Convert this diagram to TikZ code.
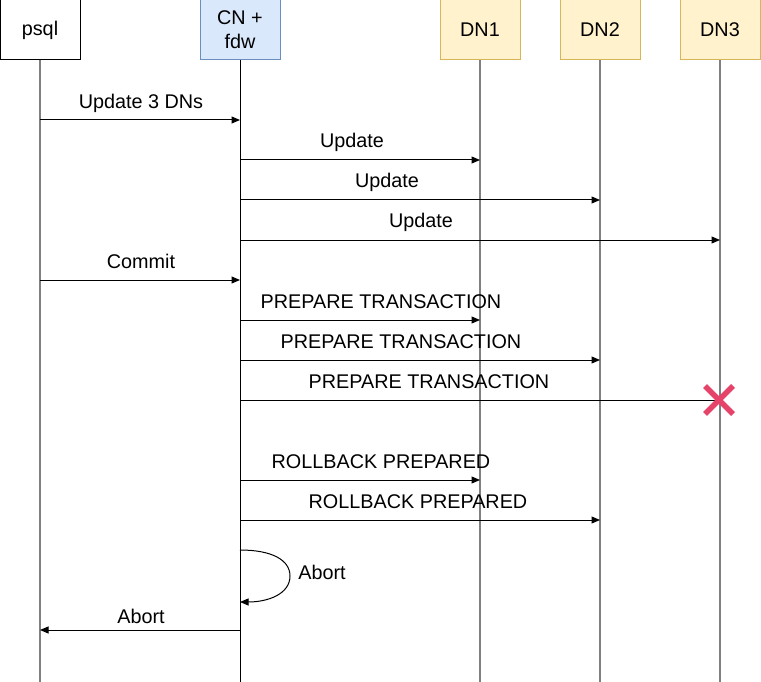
\documentclass[tikz,border=0pt]{standalone}
\usepackage{fontspec}
\setmainfont{Liberation Sans}
\usetikzlibrary{arrows.meta,positioning,calc}

\definecolor{cnfill}{HTML}{DAE8FC}
\definecolor{cndraw}{HTML}{6C8EBF}
\definecolor{dnfill}{HTML}{FFF2CC}
\definecolor{dndraw}{HTML}{D6B656}
\definecolor{failred}{HTML}{E6436B}
\definecolor{lifegray}{HTML}{808080}

\tikzset{
  party/.style={draw, line width=1pt, minimum width=80pt, minimum height=60pt, inner sep=0pt, align=center, font=\fontsize{19.8}{24}\selectfont},
  lifeline/.style={line width=1.2pt, lifegray},
  msg/.style={line width=1pt, -{Triangle[length=8.5pt,width=7pt]}},
  msglabel/.style={anchor=base, inner sep=0pt, font=\fontsize{19.8}{22}\selectfont}
}

\begin{document}
\begin{tikzpicture}[x=1pt,y=-1pt]
  \useasboundingbox (0,0) rectangle (761,682);

  % participants
  \node[party] (psql) at (40,30) {psql};
  \node[party, fill=cnfill, draw=cndraw] (cn) at (240,30) {CN +\\fdw};
  \node[party, fill=dnfill, draw=dndraw] (dn1) at (480,30) {DN1};
  \node[party, fill=dnfill, draw=dndraw] (dn2) at (600,30) {DN2};
  \node[party, fill=dnfill, draw=dndraw] (dn3) at (720,30) {DN3};

  % lifelines
  \coordinate (psqlend) at (40,682);
  \coordinate (cnend) at (240,682);
  \coordinate (dn1end) at (480,682);
  \coordinate (dn2end) at (600,682);
  \coordinate (dn3end) at (720,682);
  \draw[lifeline] (psql) -- (psqlend);
  \draw[lifeline, black, line width=1pt] (cn) -- (cnend);
  \draw[lifeline] (dn1) -- (dn1end);
  \draw[lifeline] (dn2) -- (dn2end);
  \draw[lifeline] (dn3) -- (dn3end);

  % update phase
  \draw[msg] (psql |- 0,120) -- (cn |- 0,120);
  \node[msglabel] (lupd) at (141,109) {Update 3 DNs};
  \draw[msg] (cn |- 0,160) -- (dn1 |- 0,160);
  \node[msglabel] (lupd1) at (352,148) {Update};
  \draw[msg] (cn |- 0,200) -- (dn2 |- 0,200);
  \node[msglabel] (lupd2) at (387,188) {Update};
  \draw[msg] (cn |- 0,240) -- (dn3 |- 0,240);
  \node[msglabel] (lupd3) at (421,228) {Update};

  % commit and prepare
  \draw[msg] (psql |- 0,280) -- (cn |- 0,280);
  \node[msglabel] (lcommit) at (141,268) {Commit};
  \draw[msg] (cn |- 0,320) -- (dn1 |- 0,320);
  \node[msglabel] (lprep1) at (381,308) {PREPARE TRANSACTION};
  \draw[msg] (cn |- 0,360) -- (dn2 |- 0,360);
  \node[msglabel] (lprep2) at (401,348) {PREPARE TRANSACTION};
  \coordinate (fail) at (719,400);
  \draw[line width=1pt] (cn |- 0,400) -- (fail);
  \node[msglabel] (lprep3) at (429,388) {PREPARE TRANSACTION};
  \draw[failred, line width=5.5pt] ($(fail)+(-14,-14)$) -- ($(fail)+(14,14)$)
                                   ($(fail)+(-14,14)$) -- ($(fail)+(14,-14)$);

  % rollback
  \draw[msg] (cn |- 0,480) -- (dn1 |- 0,480);
  \node[msglabel] (lroll1) at (381,468) {ROLLBACK PREPARED};
  \draw[msg] (cn |- 0,520) -- (dn2 |- 0,520);
  \node[msglabel] (lroll2) at (418,508) {ROLLBACK PREPARED};

  % abort
  \draw[msg] (cn |- 0,550) .. controls (272,550) and (290,560) .. (290,576)
             .. controls (290,594) and (268,602) .. (cn |- 0,602);
  \node[msglabel] (labort) at (322,579) {Abort};
  \draw[msg] (cn |- 0,630) -- (psql |- 0,630);
  \node[msglabel] (labort2) at (141,623) {Abort};
\end{tikzpicture}
\end{document}
